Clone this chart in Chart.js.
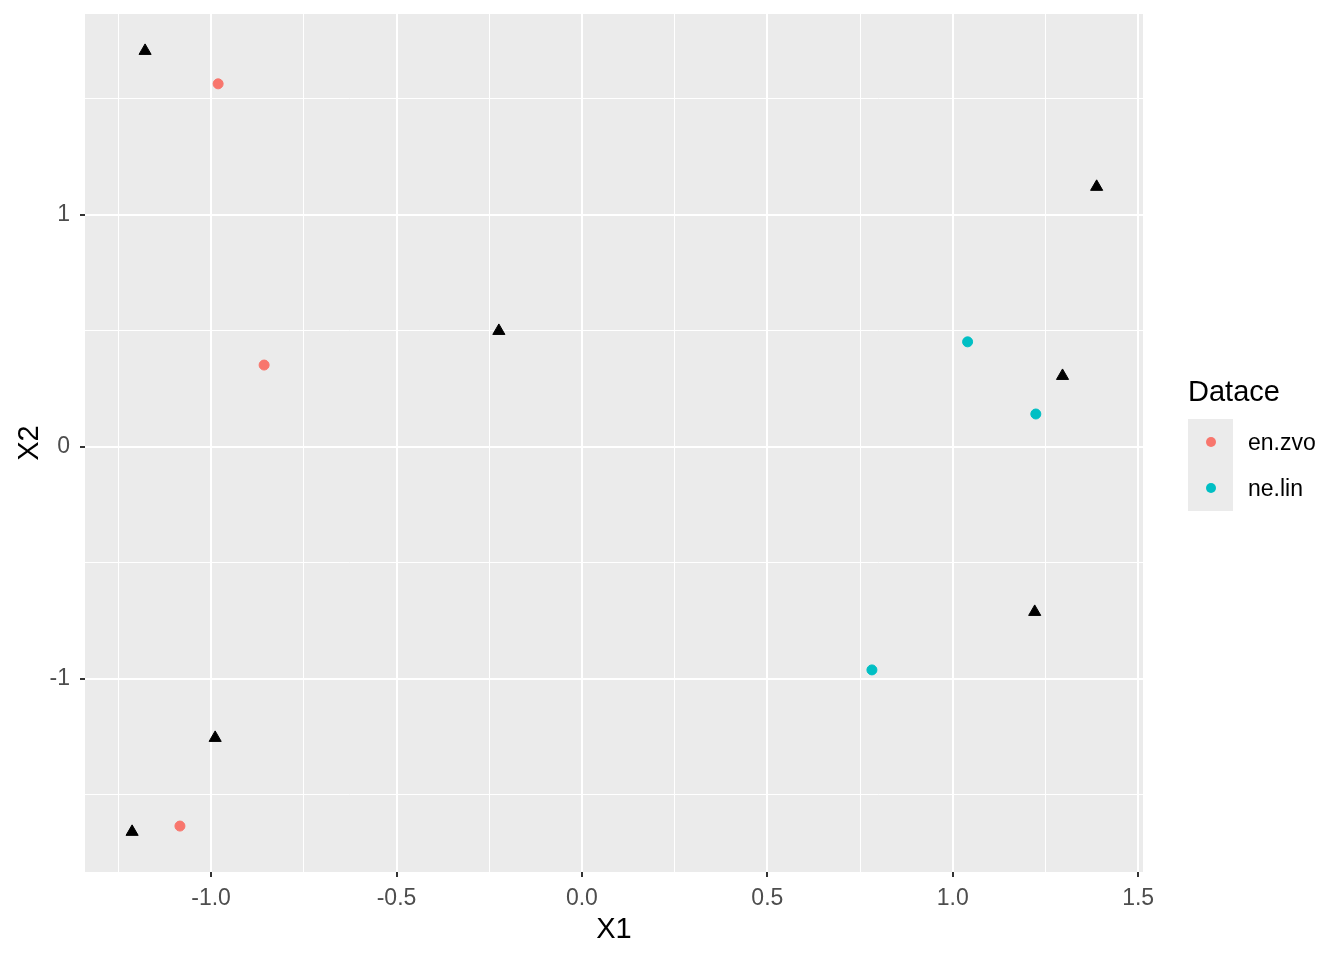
<!DOCTYPE html>
<html>
<head>
<meta charset="utf-8">
<script src="https://cdn.jsdelivr.net/npm/chart.js@4/dist/chart.umd.min.js"></script>
<style>
  html, body { margin: 0; padding: 0; background: #ffffff; }
  #wrap { width: 1344px; height: 960px; }
</style>
</head>
<body>
<div id="wrap"><canvas id="chart" width="1344" height="960"></canvas></div>
<script>
// data
const enZvoX = [-0.981, -0.857, -1.084]
const enZvoY = [1.565, 0.353, -1.634]
const neLinX = [1.040, 1.224, 0.782]
const neLinY = [0.453, 0.142, -0.961]
const triX = [-1.178, 1.388, -0.224, 1.296, 1.221, -0.989, -1.213]
const triY = [1.707, 1.121, 0.500, 0.306, -0.711, -1.254, -1.659]

const legendTitle = "Datace"
const legendLabels = ["en.zvo", "ne.lin"]
const legendColors = ["#F8766D", "#00BFC4"]

const xMajor = [-1.0, -0.5, 0.0, 0.5, 1.0, 1.5]
const xMinor = [-1.25, -0.75, -0.25, 0.25, 0.75, 1.25]
const yMajor = [-1, 0, 1]
const yMinor = [-1.5, -0.5, 0.5, 1.5]

const toPoints = (xs, ys) => xs.map((x, i) => ({ x: x, y: ys[i] }))
const FONT = "'Liberation Sans', Arial, sans-serif"

const panelBg = {
    id: "panelBg",
    beforeDraw(chart) {
        const { ctx, chartArea } = chart
        ctx.save()
        ctx.fillStyle = "#EBEBEB"
        ctx.fillRect(chartArea.left, chartArea.top, chartArea.right - chartArea.left, chartArea.bottom - chartArea.top)
        ctx.restore()
    }
}

const ggLegend = {
    id: "ggLegend",
    afterDraw(chart) {
        const ctx = chart.ctx
        const x0 = chart.chartArea.right + 45
        ctx.save()
        ctx.fillStyle = "#000000"
        ctx.font = "29px " + FONT
        ctx.textBaseline = "middle"
        ctx.textAlign = "left"
        ctx.fillText(legendTitle, x0, 393)
        ctx.fillStyle = "#EBEBEB"
        ctx.fillRect(x0, 419, 45, 92)
        legendLabels.forEach((lab, i) => {
            const cy = 442 + i * 46
            ctx.beginPath()
            ctx.arc(x0 + 23, cy, 5, 0, Math.PI * 2)
            ctx.fillStyle = legendColors[i]
            ctx.fill()
            ctx.fillStyle = "#000000"
            ctx.font = "23px " + FONT
            ctx.fillText(lab, x0 + 60, cy + 2)
        })
        ctx.restore()
    }
}

const isMajor = (list, v) => list.some(m => Math.abs(m - v) < 1e-9)

const ctx = document.querySelector("#chart")
const chart = new Chart(ctx, {
    type: "scatter",
    data: {
        datasets: [
            {
                label: legendLabels[0],
                data: toPoints(enZvoX, enZvoY),
                backgroundColor: legendColors[0],
                borderColor: legendColors[0],
                pointRadius: 5,
                pointStyle: "circle"
            },
            {
                label: legendLabels[1],
                data: toPoints(neLinX, neLinY),
                backgroundColor: legendColors[1],
                borderColor: legendColors[1],
                pointRadius: 5,
                pointStyle: "circle"
            },
            {
                label: "tri",
                data: toPoints(triX, triY),
                backgroundColor: "#000000",
                borderColor: "#000000",
                pointRadius: 7,
                pointStyle: "triangle"
            }
        ]
    },
    options: {
        responsive: false,
        animation: false,
        devicePixelRatio: 1,
        layout: { padding: { top: 14, right: 201, bottom: 0, left: 0 } },
        plugins: {
            legend: { display: false },
            tooltip: { enabled: false }
        },
        scales: {
            x: {
                type: "linear",
                min: -1.34,
                max: 1.513,
                afterBuildTicks: (scale) => {
                    scale.ticks = xMajor.concat(xMinor).sort((a, b) => a - b).map(v => ({ value: v }))
                },
                afterFit: (scale) => {
                    scale.height = 88
                    scale.paddingLeft = 0
                    scale.paddingRight = 0
                },
                border: { display: false },
                grid: {
                    color: "#FFFFFF",
                    lineWidth: (c) => c.tick && isMajor(xMajor, c.tick.value) ? 2 : 1,
                    tickColor: (c) => c.tick && isMajor(xMajor, c.tick.value) ? "#333333" : "rgba(0,0,0,0)",
                    tickLength: 5,
                    tickWidth: 2
                },
                ticks: {
                    autoSkip: false,
                    maxRotation: 0,
                    padding: 8,
                    color: "#4D4D4D",
                    font: { family: FONT, size: 23 },
                    callback: (v) => isMajor(xMajor, v) ? v.toFixed(1) : ""
                },
                title: {
                    display: true,
                    text: "X1",
                    color: "#000000",
                    font: { family: FONT, size: 29 },
                    padding: { top: 0, bottom: 13 }
                }
            },
            y: {
                type: "linear",
                min: -1.832,
                max: 1.866,
                afterBuildTicks: (scale) => {
                    scale.ticks = yMajor.concat(yMinor).sort((a, b) => a - b).map(v => ({ value: v }))
                },
                afterFit: (scale) => {
                    scale.width = 85
                    scale.paddingTop = 0
                    scale.paddingBottom = 0
                },
                border: { display: false },
                grid: {
                    color: "#FFFFFF",
                    lineWidth: (c) => c.tick && isMajor(yMajor, c.tick.value) ? 2 : 1,
                    tickColor: (c) => c.tick && isMajor(yMajor, c.tick.value) ? "#333333" : "rgba(0,0,0,0)",
                    tickLength: 5,
                    tickWidth: 2
                },
                ticks: {
                    autoSkip: false,
                    padding: 10,
                    color: "#4D4D4D",
                    font: { family: FONT, size: 23 },
                    callback: (v) => isMajor(yMajor, v) ? String(v) : ""
                },
                title: {
                    display: true,
                    text: "X2",
                    color: "#000000",
                    font: { family: FONT, size: 29 },
                    padding: { top: 13, bottom: 0 }
                }
            }
        }
    },
    plugins: [panelBg, ggLegend]
})
</script>
</body>
</html>
